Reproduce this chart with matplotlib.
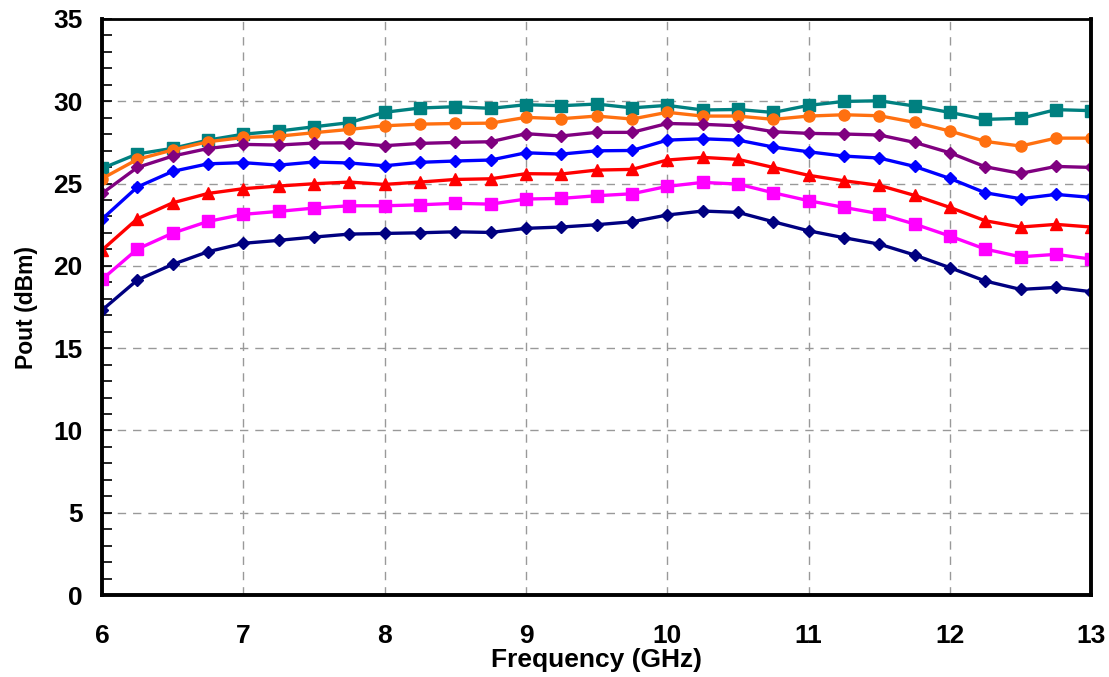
import numpy as np
import matplotlib
matplotlib.use('Agg')
import matplotlib.pyplot as plt
from matplotlib.ticker import MultipleLocator

plt.rcParams['font.family'] = ['Liberation Sans', 'DejaVu Sans']
plt.rcParams['font.weight'] = 'bold'

# Frequency points (GHz)
freq = [6.0, 6.25, 6.5, 6.75, 7.0, 7.25, 7.5, 7.75, 8.0, 8.25, 8.5, 8.75, 9.0, 9.25, 9.5,
        9.75, 10.0, 10.25, 10.5, 10.75, 11.0, 11.25, 11.5, 11.75, 12.0, 12.25, 12.5, 12.75, 13.0]

# Output power curves (dBm), top to bottom
teal = [25.92, 26.80, 27.14, 27.64, 28.00, 28.19, 28.45, 28.70, 29.33, 29.59, 29.67, 29.57, 29.79, 29.73, 29.83,
        29.60, 29.75, 29.47, 29.50, 29.32, 29.75, 29.99, 30.03, 29.71, 29.32, 28.90, 28.96, 29.49, 29.43]
orange = [25.30, 26.47, 27.04, 27.54, 27.80, 27.88, 28.09, 28.29, 28.51, 28.61, 28.65, 28.67, 29.02, 28.94, 29.10,
          28.92, 29.33, 29.10, 29.10, 28.90, 29.10, 29.18, 29.12, 28.72, 28.19, 27.56, 27.28, 27.76, 27.76]
purple = [24.40, 25.98, 26.67, 27.13, 27.38, 27.34, 27.46, 27.48, 27.30, 27.44, 27.50, 27.54, 28.03, 27.89, 28.11,
          28.11, 28.65, 28.60, 28.51, 28.15, 28.05, 28.01, 27.95, 27.50, 26.87, 26.02, 25.62, 26.04, 25.98]
blue = [22.84, 24.79, 25.74, 26.20, 26.27, 26.12, 26.31, 26.25, 26.08, 26.29, 26.37, 26.43, 26.87, 26.79, 26.99,
        27.01, 27.64, 27.72, 27.64, 27.22, 26.93, 26.67, 26.55, 26.04, 25.31, 24.44, 24.08, 24.34, 24.16]
red = [20.96, 22.86, 23.83, 24.40, 24.69, 24.85, 24.99, 25.09, 24.95, 25.09, 25.25, 25.29, 25.60, 25.58, 25.82,
       25.86, 26.43, 26.59, 26.47, 25.98, 25.50, 25.17, 24.89, 24.28, 23.55, 22.74, 22.36, 22.52, 22.36]
magenta = [19.18, 21.02, 21.99, 22.70, 23.13, 23.31, 23.51, 23.65, 23.65, 23.71, 23.80, 23.75, 24.06, 24.10, 24.26,
           24.38, 24.83, 25.07, 24.97, 24.44, 23.96, 23.55, 23.17, 22.54, 21.81, 21.02, 20.55, 20.70, 20.41]
navy = [17.31, 19.14, 20.09, 20.86, 21.37, 21.55, 21.75, 21.93, 21.97, 22.01, 22.07, 22.03, 22.28, 22.36, 22.50,
        22.68, 23.09, 23.33, 23.25, 22.68, 22.13, 21.71, 21.32, 20.66, 19.89, 19.08, 18.57, 18.69, 18.43]

fig = plt.figure(figsize=(11.09, 6.77), dpi=100)
ax = fig.add_axes([0.092, 0.121, 0.892, 0.851])

ax.plot(freq, teal, color='#008080', marker='s', markersize=8, linewidth=2.4)
ax.plot(freq, orange, color='#FF7010', marker='o', markersize=8, linewidth=2.4)
ax.plot(freq, purple, color='#800080', marker='D', markersize=6, linewidth=2.4)
ax.plot(freq, blue, color='#0000FF', marker='D', markersize=6, linewidth=2.4)
ax.plot(freq, red, color='#FF0000', marker='^', markersize=8, linewidth=2.4)
ax.plot(freq, magenta, color='#FF00FF', marker='s', markersize=8, linewidth=2.4)
ax.plot(freq, navy, color='#000080', marker='D', markersize=6, linewidth=2.4)

ax.set_xlim(6, 13)
ax.set_ylim(0, 35)
ax.xaxis.set_major_locator(MultipleLocator(1))
ax.yaxis.set_major_locator(MultipleLocator(5))
ax.yaxis.set_minor_locator(MultipleLocator(1))

ax.grid(True, which='major', linestyle=(0, (6, 5)), color='#999999', linewidth=1)
ax.set_axisbelow(True)

for side in ['left', 'bottom', 'right']:
    ax.spines[side].set_linewidth(2.8)
ax.spines['top'].set_linewidth(2)

ax.tick_params(axis='y', which='both', direction='in', length=7, width=1.2, labelsize=19, pad=14)
ax.tick_params(axis='x', which='both', length=0, labelsize=19, pad=21)

ax.set_xlabel('Frequency (GHz)', fontsize=19, fontweight='bold', labelpad=0)
ax.set_ylabel('Pout (dBm)', fontsize=16.5, fontweight='bold', labelpad=11)

plt.savefig('out.png', dpi=100)
